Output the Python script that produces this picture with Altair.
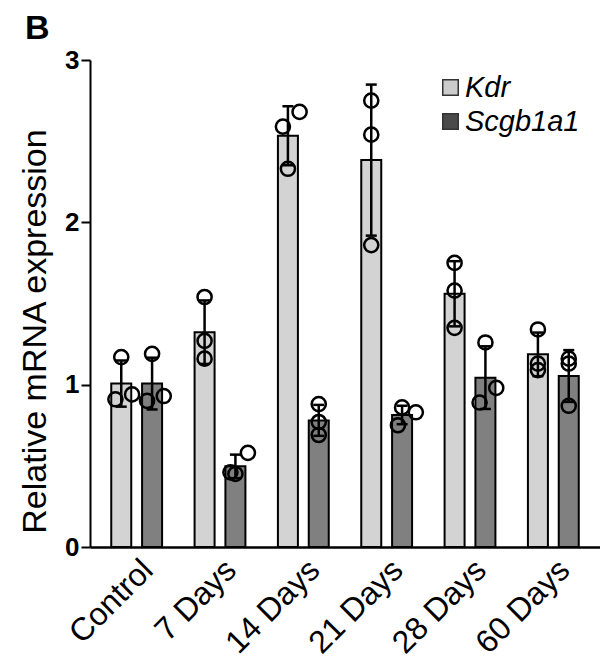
import json
import altair as alt
import numpy as np
import pandas as pd

# ---- data ----
groups = ["Control", "7 Days", "14 Days", "21 Days", "28 Days", "60 Days"]
genes = ["Kdr", "Scgb1a1"]

kdr_points = [[1.17, 0.91, 0.94], [1.54, 1.27, 1.16], [2.68, 2.59, 2.33],
              [2.75, 2.54, 1.86], [1.75, 1.58, 1.35], [1.34, 1.13, 1.09]]
scgb_points = [[1.19, 0.90, 0.93], [0.58, 0.46, 0.45], [0.88, 0.77, 0.69],
               [0.86, 0.83, 0.75], [1.26, 0.98, 0.89], [1.16, 1.13, 0.87]]
# horizontal scatter of replicate dots (fraction of a group step)
kdr_jitter = [[0, -0.07, 0.13], [0, 0, 0], [0.14, -0.06, 0],
              [0, 0, 0], [0, 0, 0], [0, 0, 0]]
scgb_jitter = [[0, -0.06, 0.14], [0.15, -0.06, 0], [0, 0, 0],
               [0, 0.165, -0.05], [0, 0.13, -0.07], [0, 0, 0]]
panel_label = ["B"]

# ---- tables ----
gene_shift = {"Kdr": -0.185, "Scgb1a1": 0.185}
rows, pts = [], []
for gene, vals, jit in [("Kdr", kdr_points, kdr_jitter), ("Scgb1a1", scgb_points, scgb_jitter)]:
    for i, g in enumerate(groups):
        v = np.array(vals[i], dtype=float)
        m, s = v.mean(), v.std(ddof=1)
        pos = i + gene_shift[gene]
        rows.append(dict(group=g, gene=gene, pos=pos, mean=m, lo=m - s, hi=m + s))
        for val, j in zip(vals[i], jit[i]):
            pts.append(dict(group=g, gene=gene, pos=pos + j, value=val))
bars = pd.DataFrame(rows)
points = pd.DataFrame(pts)

FONT = "Liberation Sans"
YT = "Relative mRNA expression"

xscale = alt.Scale(domain=[-0.5, 5.5], nice=False, zero=False)
yscale = alt.Scale(domain=[0, 3], nice=False, zero=True)

xaxis = alt.Axis(values=list(range(len(groups))),
                 labelExpr=json.dumps(groups) + "[datum.value]",
                 ticks=False, grid=False, title=None, labelOverlap=False,
                 labelAngle=-45, labelAlign="right", labelBaseline="top",
                 labelFontSize=32, labelFont=FONT, labelColor="black",
                 labelPadding=7, domainColor="black", domainWidth=2.5)
yaxis = alt.Axis(values=[0, 1, 2, 3], format="d", grid=False,
                 labelFontSize=26, labelFontWeight="bold", labelFont=FONT,
                 labelColor="black", labelPadding=2,
                 tickSize=9, tickWidth=2, tickColor="black",
                 domainColor="black", domainWidth=2,
                 titleFont=FONT, titleFontSize=34, titleFontWeight="normal",
                 titleColor="black", titleAngle=270, titleAlign="center",
                 titleBaseline="alphabetic", titleX=-45, titleY=271)

bar_color = alt.Color("gene:N", scale=alt.Scale(domain=genes, range=["#d3d3d3", "#808080"]),
                      legend=None)
key_color = alt.Color("gene:N", scale=alt.Scale(domain=genes, range=["#cccccc", "#4a4a4a"]),
                      legend=alt.Legend(title=None, orient="none", legendX=341, legendY=13,
                                        symbolType="square", symbolSize=240, symbolOffset=5,
                                        symbolOpacity=1, symbolStrokeColor="#333333",
                                        symbolStrokeWidth=1.5,
                                        labelFont=FONT, labelFontSize=29, labelFontStyle="italic",
                                        labelColor="black", labelOffset=0, labelLimit=0,
                                        rowPadding=4, padding=0))

X = lambda f: alt.X(f, scale=xscale, axis=xaxis, title=None)

bar = alt.Chart(bars).mark_bar(size=20, stroke="black", strokeWidth=2).encode(
    x=X("pos:Q"), y=alt.Y("mean:Q", scale=yscale, axis=yaxis, title=YT), color=bar_color)
key = alt.Chart(bars).mark_square(size=0, filled=True).encode(
    x=X("pos:Q"), y=alt.Y("mean:Q", scale=yscale, title=YT), color=key_color)
err = alt.Chart(bars).mark_rule(color="black", strokeWidth=2.5).encode(
    x=X("pos:Q"), y=alt.Y("lo:Q", scale=yscale, title=YT), y2="hi:Q")
cap_hi = alt.Chart(bars).mark_tick(orient="horizontal", size=11, thickness=2.5, color="black", opacity=1).encode(
    x=X("pos:Q"), y=alt.Y("hi:Q", scale=yscale, title=YT))
cap_lo = alt.Chart(bars).mark_tick(orient="horizontal", size=11, thickness=2.5, color="black", opacity=1).encode(
    x=X("pos:Q"), y=alt.Y("lo:Q", scale=yscale, title=YT))
dots = alt.Chart(points).mark_point(shape="circle", filled=False, size=200, strokeWidth=2.5,
                                    color="black", opacity=1).encode(
    x=X("pos:Q"), y=alt.Y("value:Q", scale=yscale, title=YT))
label = alt.Chart(pd.DataFrame({"t": panel_label})).mark_text(
    font=FONT, fontSize=34, fontWeight="bold", color="black", align="left",
    baseline="alphabetic").encode(text="t:N", x=alt.value(-65), y=alt.value(-21))

chart = alt.layer(bar, key, err, cap_hi, cap_lo, dots, label).resolve_scale(
    color="independent"
).properties(
    width=510, height=487,
    autosize="none",
    padding={"left": 82, "top": 52, "right": 0, "bottom": 114},
).configure_view(stroke=None)

chart.save("out.html", embed_options={"renderer": "svg", "actions": False})
